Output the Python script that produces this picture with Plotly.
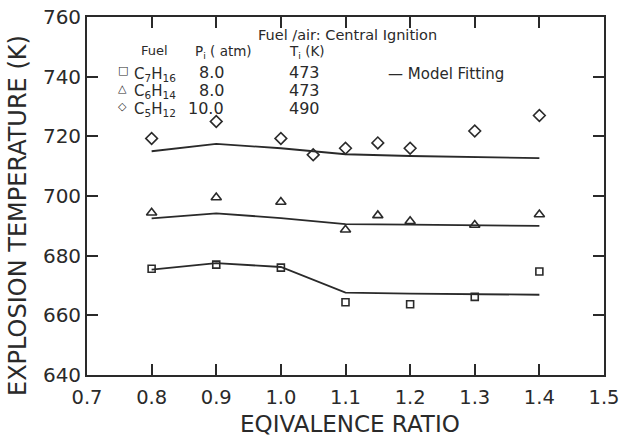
import plotly.graph_objects as go

# Experimental data (equivalence ratio vs explosion temperature, K)
phi_c7 = [0.8, 0.9, 1.0, 1.1, 1.2, 1.3, 1.4]
T_c7 = [675.6, 677.0, 676.0, 664.4, 663.7, 666.2, 674.7]

phi_c6 = [0.8, 0.9, 1.0, 1.1, 1.15, 1.2, 1.3, 1.4]
T_c6 = [694.4, 699.5, 698.0, 688.7, 693.5, 691.5, 690.3, 693.8]

phi_c5 = [0.8, 0.9, 1.0, 1.05, 1.1, 1.15, 1.2, 1.3, 1.4]
T_c5 = [719.3, 725.0, 719.3, 713.8, 716.0, 717.8, 716.0, 721.8, 727.0]

# Model fitting curves
fit_phi = [0.8, 0.9, 1.0, 1.1, 1.2, 1.3, 1.4]
fit_c7 = [675.3, 677.5, 676.2, 667.6, 667.3, 667.1, 666.9]
fit_c6 = [692.5, 694.2, 692.6, 690.6, 690.4, 690.2, 690.0]
fit_c5 = [715.0, 717.5, 716.0, 714.0, 713.4, 713.0, 712.7]

x_ticks = [0.7, 0.8, 0.9, 1.0, 1.1, 1.2, 1.3, 1.4, 1.5]
x_ticktext = ["0.7", "0.8", "0.9", "1.0", "1.1", "1.2", "1.3", "1.4", "1.5"]
y_ticks = [640, 660, 680, 700, 720, 740, 760]

INK = "#2a2a2a"
FONT = "DejaVu Sans, Liberation Sans, sans-serif"

L, R, T, B = 87, 17, 17, 63
W, H = 621, 438

fig = go.Figure()

for y in (fit_c7, fit_c6, fit_c5):
    fig.add_trace(go.Scatter(x=fit_phi, y=y, mode="lines",
                             line=dict(color=INK, width=1.8),
                             showlegend=False, hoverinfo="skip"))

fig.add_trace(go.Scatter(x=phi_c7, y=T_c7, mode="markers",
                         marker=dict(symbol="square-open", size=7, color=INK,
                                     line=dict(width=1.6, color=INK)),
                         showlegend=False))
fig.add_trace(go.Scatter(x=phi_c6, y=T_c6, mode="markers",
                         marker=dict(symbol="triangle-up-open", size=9, color=INK,
                                     line=dict(width=1.6, color=INK)),
                         showlegend=False))
fig.add_trace(go.Scatter(x=phi_c5, y=T_c5, mode="markers",
                         marker=dict(symbol="diamond-open", size=9, color=INK,
                                     line=dict(width=1.6, color=INK)),
                         showlegend=False))

fig.update_xaxes(range=[0.7, 1.5], tickvals=x_ticks, ticktext=x_ticktext,
                 ticks="inside", ticklen=11, tickwidth=1.6, tickcolor=INK,
                 showline=True, linecolor=INK, linewidth=1.8, mirror="ticks",
                 showgrid=False, zeroline=False, ticklabelstandoff=4,
                 ticklabeloverflow="allow", automargin=False,
                 tickfont=dict(family=FONT, size=19.5, color=INK))
fig.update_yaxes(range=[640, 760], tickvals=y_ticks,
                 ticks="inside", ticklen=11, tickwidth=1.6, tickcolor=INK,
                 showline=True, linecolor=INK, linewidth=1.8, mirror="ticks",
                 showgrid=False, zeroline=False, ticklabeloverflow="allow",
                 automargin=False,
                 tickfont=dict(family=FONT, size=20, color=INK))

# positions in paper coordinates (pixel -> paper fraction of plot area)
def px(xp):
    return (xp - L) / float(W - L - R)

def py(yp):
    return (H - B - yp) / float(H - B - T)

def txt(x, y, s, anchor="left", size=13, angle=0):
    fig.add_annotation(xref="paper", yref="paper", x=x, y=y, text=s,
                       showarrow=False, xanchor=anchor, yanchor="middle",
                       textangle=angle,
                       font=dict(family=FONT, size=size, color=INK))

# axis titles
txt(px(350), py(424), "EQIVALENCE RATIO", anchor="center", size=23)
txt(px(18), py(216), "EXPLOSION TEMPERATURE (K)", anchor="center", size=24, angle=-90)

txt(px(256), py(35), "Fuel /air: Central Ignition", size=14.5)
txt(px(139), py(51), "Fuel", size=13)
txt(px(193), py(52), "P<sub>i</sub> ( atm)", size=13.5)
txt(px(287), py(52), "T<sub>i</sub> (K)", size=13.5)

rows = [("□", "C<sub>7</sub>H<sub>16</sub>", "8.0", "473"),
        ("△", "C<sub>6</sub>H<sub>14</sub>", "8.0", "473"),
        ("◇", "C<sub>5</sub>H<sub>12</sub>", "10.0", "490")]
row_y = [72, 90, 108]
for (sym, name, p, t), yy in zip(rows, row_y):
    txt(px(116), py(yy - 2), sym, size=11)
    txt(px(132), py(yy + 2), name, size=15)
    txt(px(226), py(yy), p, anchor="right", size=16)
    txt(px(287), py(yy), t, size=16)

txt(px(386), py(74), "— Model Fitting", size=15)

fig.update_layout(width=W, height=H,
                  margin=dict(l=L, r=R, t=T, b=B),
                  paper_bgcolor="white", plot_bgcolor="white",
                  font=dict(family=FONT, color=INK))

fig.write_html("out.html")
